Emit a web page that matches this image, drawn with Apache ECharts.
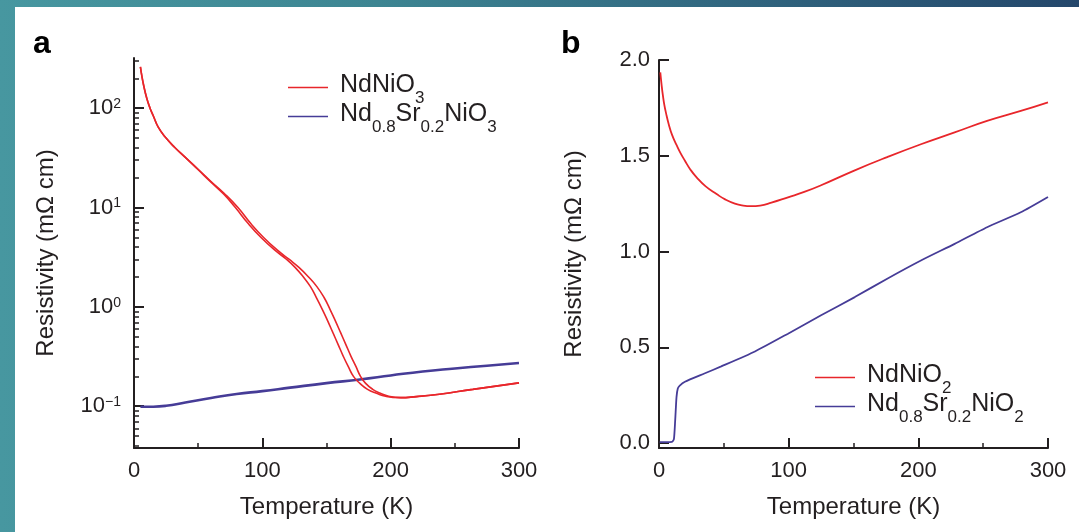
<!DOCTYPE html>
<html><head><meta charset="utf-8">
<script src="https://cdn.jsdelivr.net/npm/echarts@6/dist/echarts.min.js"></script>
<style>
html,body{margin:0;padding:0;width:1079px;height:532px;overflow:hidden;}
body{background:linear-gradient(90deg,#4797a0 0%,#3d8592 35%,#30647e 70%,#24476b 100%);position:relative;}
#panel{position:absolute;left:15px;top:7px;right:0;bottom:0;background:#fff;}
#chart{position:absolute;left:0;top:0;width:1079px;height:532px;}
</style></head><body><div id="panel"></div><div id="chart"></div>
<script>
// ---------- data ----------
const tempTicks = [0, 100, 200, 300];
const logLabelValues = [0.1, 1, 10, 100];
const logMinorValues = [0.04,0.05,0.06,0.07,0.08,0.09,0.2,0.3,0.4,0.5,0.6,0.7,0.8,0.9,2,3,4,5,6,7,8,9,20,30,40,50,60,70,80,90,200,300];
const linTickValues = [0, 0.5, 1.0, 1.5, 2.0];

// panel a : NdNiO3 (cooling / warming branches) [T (K), rho (mOhm cm)]
const ndnio3Cool = [[5,260],[6,215],[7.5,170],[10,125],[12.5,100],[15,84],[19,64],[25,50],[32,40],[40,32],[50,24],[60,18],[70,13.6],[79,10],[89,6.9],[99,5.0],[110,3.7],[119,3.0],[125.5,2.5],[132,2.0],[137.5,1.6],[142,1.25],[147,0.93],[151,0.72],[155,0.55],[159,0.42],[163,0.32],[167,0.25],[171,0.2],[176,0.17],[182,0.148],[189,0.135],[196,0.126],[207,0.122],[220,0.125],[238,0.132],[264,0.148],[300,0.172]];
const ndnio3Warm = [[5,260],[6,215],[7.5,170],[10,125],[12.5,100],[15,84],[19,64],[25,50],[32,40],[40,32],[50,24.3],[60,18.3],[70,14],[81,10],[91,6.9],[101,5.0],[112,3.7],[121,3.0],[128.5,2.5],[136,2.0],[142.5,1.6],[148,1.25],[153,0.93],[157,0.72],[161,0.55],[165,0.42],[169,0.32],[173,0.25],[176.5,0.2],[180.5,0.17],[186,0.148],[192,0.135],[198.5,0.126],[208,0.122],[220,0.125],[238,0.132],[264,0.148],[300,0.172]];
const ndsrnio3 = [[5,0.099],[15,0.099],[25,0.101],[40,0.109],[60,0.121],[80,0.133],[100,0.142],[121.6,0.154],[150,0.171],[176,0.186],[200,0.204],[225,0.224],[250,0.24],[275,0.256],[300,0.272]];

// panel b
const ndnio2 = [[1,1.935],[2,1.87],[3,1.815],[4,1.77],[5.5,1.72],[7.5,1.665],[10,1.61],[13.6,1.555],[16.5,1.515],[20,1.474],[24,1.43],[29,1.387],[36,1.34],[44.4,1.30],[51,1.272],[58.5,1.25],[65,1.24],[71,1.237],[78,1.24],[86.7,1.255],[99.5,1.283],[112,1.311],[125,1.346],[151,1.424],[176,1.493],[202,1.56],[228,1.622],[253,1.682],[279,1.734],[300,1.779]];
const ndsrnio2 = [[0.5,0.005],[5,0.005],[10,0.006],[11.5,0.02],[12.5,0.12],[13.5,0.24],[14.5,0.285],[16,0.3],[20,0.32],[35,0.363],[48,0.40],[74,0.478],[99.5,0.571],[125,0.667],[151,0.762],[176,0.858],[202,0.953],[228,1.04],[253,1.127],[279,1.205],[300,1.285]];

const legendA = ['NdNiO3', 'Nd0.8Sr0.2NiO3'];
const legendB = ['NdNiO2', 'Nd0.8Sr0.2NiO2'];
const legendRich = {
  'NdNiO3': '{f|NdNiO}{s|3}',
  'Nd0.8Sr0.2NiO3': '{f|Nd}{s|0.8}{b|Sr}{s|0.2}{b|NiO}{s|3}',
  'NdNiO2': '{f|NdNiO}{s|2}',
  'Nd0.8Sr0.2NiO2': '{f|Nd}{s|0.8}{b|Sr}{s|0.2}{b|NiO}{s|2}'
};

// ---------- style ----------
const FF = '"Liberation Sans", Arial, Helvetica, sans-serif';
const ink = '#231f20';
const red = '#e8262b';
const blue = '#463c97';

const chart = echarts.init(document.getElementById('chart'), null, {renderer: 'canvas'});

function xAxisCfg(gi) {
  return {
    gridIndex: gi, type: 'value', min: 0, max: 300, interval: 100,
    axisLine: {show: true, onZero: false, lineStyle: {color: ink, width: 2}},
    axisTick: {show: true, inside: true, length: 10, lineStyle: {color: ink, width: 2}},
    minorTick: {show: true, splitNumber: 2, length: 5, lineStyle: {color: ink, width: 1.5}},
    axisLabel: {fontSize: 22, color: ink, fontFamily: FF, margin: 12, showMinLabel: true, showMaxLabel: true},
    splitLine: {show: false}, minorSplitLine: {show: false},
    name: 'Temperature (K)', nameLocation: 'middle', nameGap: 47,
    nameTextStyle: {fontSize: 24, color: ink, fontFamily: FF}
  };
}
const legendRichStyle = {
  f: {fontSize: 25, fontFamily: FF, color: ink, verticalAlign: 'top', lineHeight: 26, padding: [5,0,0,7]},
  b: {fontSize: 25, fontFamily: FF, color: ink, verticalAlign: 'top', lineHeight: 26, padding: [5,0,0,0]},
  s: {fontSize: 17, fontFamily: FF, color: ink, verticalAlign: 'bottom', lineHeight: 39}
};
function legendCfg(data, left, top) {
  return {
    data: data, left: left, top: top, orient: 'vertical', padding: 0,
    icon: 'rect', itemWidth: 40, itemHeight: 1.6, itemGap: -10, selectedMode: false,
    formatter: n => legendRich[n],
    textStyle: {color: ink, fontFamily: FF, fontSize: 25, rich: legendRichStyle}
  };
}
const lineBase = {type: 'line', showSymbol: false, smooth: 0.5};

const option = {
  animation: false,
  backgroundColor: 'transparent',
  title: [
    {text: 'a', left: 33, top: 28, padding: 0, textStyle: {fontSize: 32, fontWeight: 'bold', color: '#000', fontFamily: FF}},
    {text: 'b', left: 561, top: 28, padding: 0, textStyle: {fontSize: 32, fontWeight: 'bold', color: '#000', fontFamily: FF}}
  ],
  grid: [
    {left: 134, top: 58, width: 385, height: 390, outerBoundsMode: 'none'},
    {left: 659, top: 60, width: 389, height: 388, outerBoundsMode: 'none'}
  ],
  legend: [legendCfg(legendA, 288, 68), legendCfg(legendB, 815, 358)],
  xAxis: [xAxisCfg(0), xAxisCfg(1)],
  yAxis: [
    {
      gridIndex: 0, type: 'log', logBase: 10, min: 0.038, max: 320, position: 'left',
      axisLine: {show: true, onZero: false, lineStyle: {color: ink, width: 2}},
      axisTick: {show: true, inside: true, length: 10, customValues: logLabelValues, lineStyle: {color: ink, width: 2}},
      axisLabel: {
        customValues: logLabelValues, margin: 13, color: ink, fontFamily: FF,
        formatter: v => {
          const e = Math.round(Math.log10(v));
          return '{n|10}{p|' + (e < 0 ? '\u2212' + (-e) : e) + '}';
        },
        rich: {
          n: {fontSize: 22, fontFamily: FF, color: ink, verticalAlign: 'bottom', lineHeight: 22},
          p: {fontSize: 14, fontFamily: FF, color: ink, verticalAlign: 'top', lineHeight: 14}
        }
      },
      splitLine: {show: false},
      name: 'Resistivity (m\u03a9 cm)', nameLocation: 'middle', nameGap: 76, nameRotate: 90,
      nameTextStyle: {fontSize: 24, color: ink, fontFamily: FF}
    },
    {
      gridIndex: 0, type: 'log', logBase: 10, min: 0.038, max: 320, position: 'left',
      axisLine: {show: false, onZero: false},
      axisTick: {show: true, inside: true, length: 5, customValues: logMinorValues, lineStyle: {color: ink, width: 1.5}},
      axisLabel: {show: false}, splitLine: {show: false}
    },
    {
      gridIndex: 1, type: 'value', min: -0.026, max: 2.0, position: 'left',
      axisLine: {show: true, onZero: false, lineStyle: {color: ink, width: 2}},
      axisTick: {show: true, inside: true, length: 10, customValues: linTickValues, lineStyle: {color: ink, width: 2}},
      axisLabel: {customValues: linTickValues, margin: 9, fontSize: 22, color: ink, fontFamily: FF, formatter: v => v.toFixed(1)},
      splitLine: {show: false},
      name: 'Resistivity (m\u03a9 cm)', nameLocation: 'middle', nameGap: 73, nameRotate: 90,
      nameTextStyle: {fontSize: 24, color: ink, fontFamily: FF}
    }
  ],
  series: [
    Object.assign({}, lineBase, {name: 'Nd0.8Sr0.2NiO3', xAxisIndex: 0, yAxisIndex: 0, data: ndsrnio3, color: blue, lineStyle: {color: blue, width: 2.6}}),
    Object.assign({}, lineBase, {name: 'NdNiO3', xAxisIndex: 0, yAxisIndex: 0, data: ndnio3Cool, color: red, lineStyle: {color: red, width: 1.6}}),
    Object.assign({}, lineBase, {name: 'NdNiO3', xAxisIndex: 0, yAxisIndex: 0, data: ndnio3Warm, color: red, lineStyle: {color: red, width: 1.6}}),
    Object.assign({}, lineBase, {name: 'NdNiO2', xAxisIndex: 1, yAxisIndex: 2, data: ndnio2, color: red, lineStyle: {color: red, width: 1.8}}),
    Object.assign({}, lineBase, {name: 'Nd0.8Sr0.2NiO2', xAxisIndex: 1, yAxisIndex: 2, data: ndsrnio2, smooth: 0.2, color: blue, lineStyle: {color: blue, width: 1.8}})
  ]
};
chart.setOption(option);
</script></body></html>
